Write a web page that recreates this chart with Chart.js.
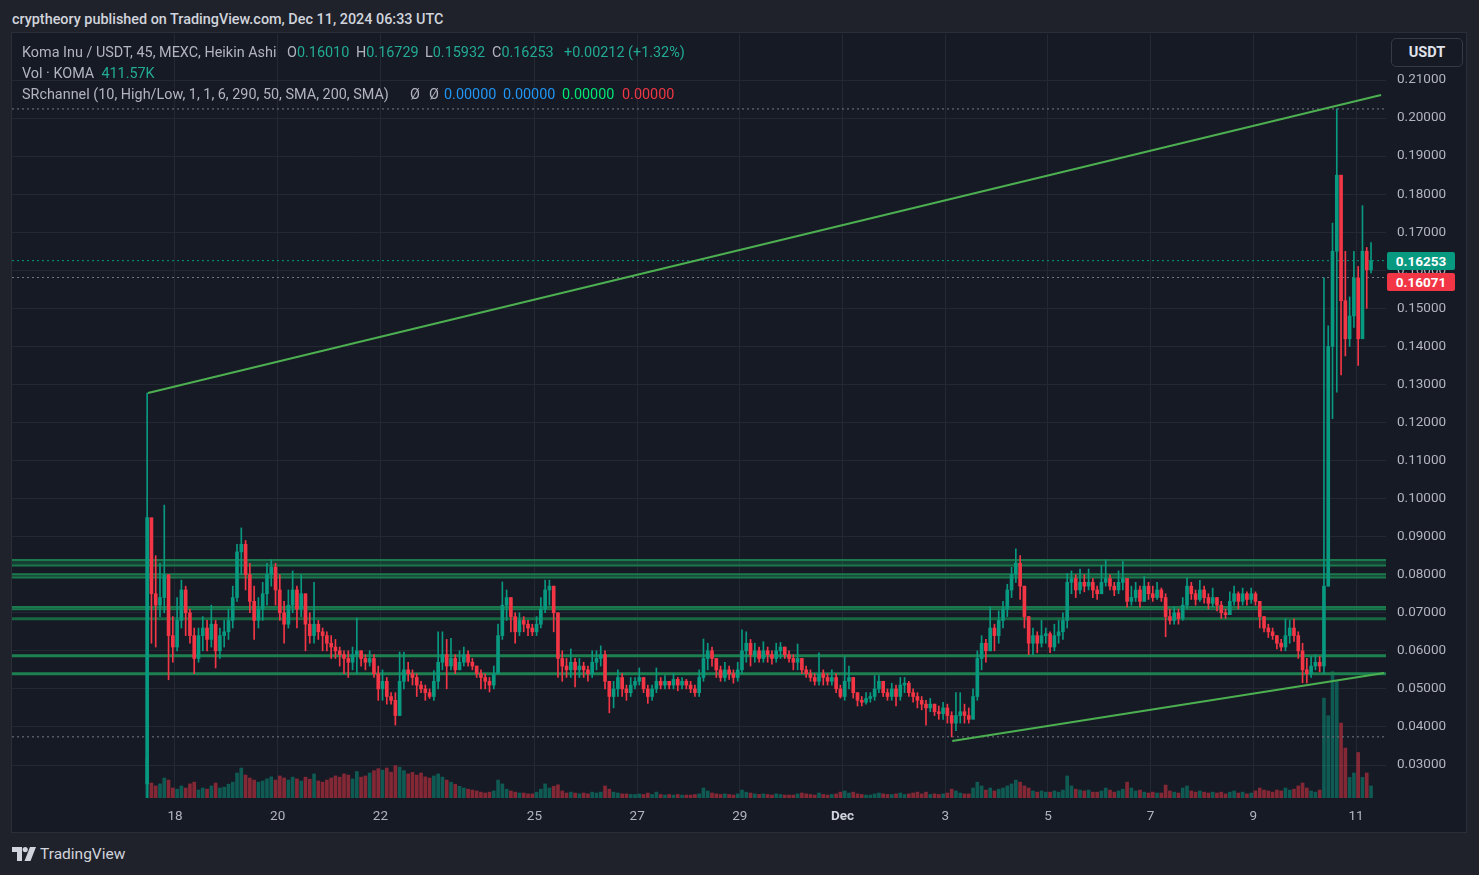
<!DOCTYPE html>
<html>
<head>
<meta charset="utf-8">
<script src="https://cdn.jsdelivr.net/npm/chart.js@4.4.1/dist/chart.umd.min.js"></script>
<style>
    html, body {
        margin: 0;
        padding: 0;
        width: 1479px;
        height: 875px;
        overflow: hidden;
        background: #1f222b;
        font-family: Roboto, "Noto Sans", sans-serif;
    }
    #hdr {
        position: absolute; left: 12px; top: 11px;
        font-size: 14.4px; font-weight: 500; color: #d1d4dc; line-height: 18px;
        white-space: pre;
    }
    #box {
        position: absolute; left: 11px; top: 32px; width: 1456px; height: 801px;
        box-sizing: border-box; border: 1px solid #2a2e39; background: #161a25;
    }
    #wrap { position: absolute; left: 12px; top: 33px; width: 1454px; height: 799px; }
    .leg {
        position: absolute; left: 22px; font-size: 14.4px; color: #b2b5be;
        line-height: 18px; white-space: pre;
    }
    .leg span { position: absolute; top: 0; }
    .v { color: #22ab94; }
    .b { color: #2196f3; }
    .g { color: #00e676; }
    .r { color: #f23645; }
    #usdt {
        position: absolute; left: 1391px; top: 38px; width: 72px; height: 29px;
        box-sizing: border-box; border: 1px solid #363a45; border-radius: 5px;
        background: #161a25; color: #e0e3eb; font-weight: 700; font-size: 14.5px;
        line-height: 27px; text-align: center;
    }
    .plabel {
        position: absolute; left: 1387px; width: 68px; height: 18px;
        color: #fff; font-weight: 700; font-size: 13.5px; line-height: 18px;
        text-align: center; border-radius: 2px;
    }
    #logo {
        position: absolute; left: 12px; top: 844px; color: #d1d4dc;
        font-size: 15.5px; line-height: 20px; display: flex; align-items: center;
    }
    #logo svg { margin-right: 4px; }
</style>
</head>
<body>
<div id="hdr">cryptheory published on TradingView.com, Dec 11, 2024 06:33 UTC</div>
<div id="box"></div>
<div id="wrap"><canvas id="chartCanvas"></canvas></div>

<div class="leg" style="top:44px">Koma Inu / USDT, 45, MEXC, Heikin Ashi<span style="left:265px">O<i class="v" style="font-style:normal">0.16010</i></span><span style="left:334px">H<i class="v" style="font-style:normal">0.16729</i></span><span style="left:403px">L<i class="v" style="font-style:normal">0.15932</i></span><span style="left:470px">C<i class="v" style="font-style:normal">0.16253</i></span><span class="v" style="left:542px">+0.00212 (+1.32%)</span></div>
<div class="leg" style="top:65px">Vol · KOMA  <i class="v" style="font-style:normal">411.57K</i></div>
<div class="leg" style="top:86px">SRchannel (10, High/Low, 1, 1, 6, 290, 50, SMA, 200, SMA)<span style="left:388px">Ø</span><span style="left:407px">Ø</span><span class="b" style="left:422px">0.00000</span><span class="b" style="left:481px">0.00000</span><span class="g" style="left:540px">0.00000</span><span class="r" style="left:600px">0.00000</span></div>

<div id="usdt">USDT</div>
<div class="plabel" id="lastLabel" style="background:#089981">0.16253</div>
<div class="plabel" id="prevLabel" style="background:#f23645">0.16071</div>

<div id="logo">
    <svg width="24" height="14" viewBox="0 0 24 14">
        <path d="M0 0h10v14H5V5H0z" fill="#d1d4dc"/>
        <circle cx="13.2" cy="2.6" r="2.6" fill="#d1d4dc"/>
        <path d="M18 0h6l-5.5 14h-6z" fill="#d1d4dc"/>
    </svg>
    <span>TradingView</span>
</div>

<script>
// Heikin Ashi 45m -> resampled to 2h bars, first bar Nov 17 11:00 (day 17.458)
const barStart = 17.458;
const barStep = 1 / 12;
const firstOpen = 0.025;

const closes = [
    0.095, 0.075, 0.072, 0.074, 0.080, 0.064, 0.061,
    // Nov 18
    0.068, 0.076, 0.070, 0.064, 0.058, 0.064, 0.066, 0.063, 0.067, 0.060, 0.064, 0.065,
    // Nov 19
    0.068, 0.074, 0.086, 0.088, 0.080, 0.073, 0.068, 0.071, 0.075, 0.080, 0.082, 0.076,
    // Nov 20
    0.070, 0.067, 0.072, 0.076, 0.071, 0.075, 0.067, 0.064, 0.067, 0.065, 0.064, 0.062,
    // Nov 21
    0.061, 0.060, 0.059, 0.058, 0.057, 0.059, 0.060, 0.058, 0.057, 0.058, 0.054, 0.050,
    // Nov 22
    0.052, 0.048, 0.047, 0.043, 0.052, 0.055, 0.054, 0.053, 0.051, 0.050, 0.049, 0.048,
    // Nov 23
    0.052, 0.057, 0.059, 0.056, 0.058, 0.055, 0.057, 0.059, 0.057, 0.056, 0.054, 0.053,
    // Nov 24
    0.052, 0.051, 0.054, 0.064, 0.072, 0.074, 0.069, 0.065, 0.068, 0.067, 0.066, 0.065,
    // Nov 25
    0.067, 0.071, 0.076, 0.077, 0.070, 0.058, 0.056, 0.055, 0.057, 0.055, 0.056, 0.055,
    // Nov 26
    0.054, 0.057, 0.058, 0.059, 0.052, 0.048, 0.050, 0.053, 0.050, 0.049, 0.051, 0.052,
    // Nov 27
    0.053, 0.050, 0.048, 0.050, 0.052, 0.051, 0.052, 0.051, 0.0525, 0.051, 0.052, 0.051,
    // Nov 28
    0.050, 0.049, 0.053, 0.058, 0.060, 0.058, 0.055, 0.053, 0.055, 0.054, 0.053, 0.055,
    // Nov 29
    0.060, 0.062, 0.059, 0.060, 0.058, 0.060, 0.059, 0.058, 0.060, 0.061, 0.059, 0.058,
    // Nov 30
    0.057, 0.058, 0.055, 0.054, 0.053, 0.052, 0.054, 0.053, 0.052, 0.053, 0.050, 0.048,
    // Dec 1
    0.052, 0.053, 0.049, 0.047, 0.0465, 0.0475, 0.048, 0.050, 0.052, 0.049, 0.048, 0.050,
    // Dec 2
    0.048, 0.051, 0.0515, 0.049, 0.048, 0.047, 0.046, 0.045, 0.046, 0.044, 0.0435, 0.045,
    // Dec 3
    0.043, 0.041, 0.043, 0.044, 0.043, 0.042, 0.048, 0.058, 0.062, 0.060, 0.066, 0.064,
    // Dec 4
    0.068, 0.071, 0.076, 0.080, 0.083, 0.077, 0.069, 0.062, 0.064, 0.062, 0.064, 0.0645,
    // Dec 5
    0.061, 0.064, 0.065, 0.068, 0.078, 0.079, 0.076, 0.078, 0.077, 0.078, 0.076, 0.075,
    // Dec 6
    0.078, 0.079, 0.077, 0.076, 0.078, 0.079, 0.073, 0.074, 0.076, 0.073, 0.077, 0.075,
    // Dec 7
    0.074, 0.076, 0.074, 0.069, 0.068, 0.070, 0.0685, 0.072, 0.077, 0.075, 0.0735, 0.076,
    // Dec 8
    0.074, 0.0725, 0.074, 0.072, 0.070, 0.0695, 0.073, 0.075, 0.073, 0.075, 0.0735, 0.075,
    // Dec 9
    0.073, 0.069, 0.066, 0.065, 0.064, 0.062, 0.061, 0.064, 0.066, 0.064, 0.060, 0.055,
    // Dec 10 - 11
    0.054, 0.056, 0.057, 0.056, 0.077, 0.140, 0.165, 0.185, 0.152, 0.142, 0.148, 0.158,
    0.142, 0.165, 0.1601, 0.16253
];

const highs = [
    0.1277, 0.0936, 0.085, 0.083, 0.0983, 0.080, 0.069,
    0.074, 0.0786, 0.077, 0.071, 0.066, 0.066, 0.069, 0.068, 0.072, 0.068, 0.066, 0.068,
    0.071, 0.077, 0.088, 0.0923, 0.089, 0.083, 0.077, 0.074, 0.078, 0.083, 0.0839, 0.083,
    0.080, 0.073, 0.076, 0.081, 0.077, 0.080, 0.075, 0.070, 0.078, 0.068, 0.066, 0.065,
    0.064, 0.063, 0.061, 0.060, 0.060, 0.061, 0.0686, 0.060, 0.059, 0.060, 0.059, 0.056,
    0.055, 0.053, 0.049, 0.049, 0.0597, 0.0597, 0.057, 0.055, 0.054, 0.052, 0.051, 0.050,
    0.0548, 0.065, 0.065, 0.063, 0.0633, 0.059, 0.060, 0.061, 0.060, 0.058, 0.056, 0.055,
    0.054, 0.053, 0.056, 0.067, 0.0781, 0.076, 0.074, 0.070, 0.070, 0.069, 0.068, 0.067,
    0.069, 0.074, 0.0786, 0.0786, 0.077, 0.070, 0.060, 0.058, 0.0605, 0.058, 0.058, 0.057,
    0.056, 0.060, 0.060, 0.0613, 0.060, 0.052, 0.052, 0.055, 0.054, 0.051, 0.053, 0.053,
    0.0555, 0.053, 0.051, 0.051, 0.0555, 0.053, 0.0535, 0.052, 0.054, 0.053, 0.053, 0.0525,
    0.052, 0.051, 0.055, 0.0631, 0.062, 0.061, 0.058, 0.056, 0.057, 0.056, 0.055, 0.057,
    0.0655, 0.065, 0.063, 0.062, 0.061, 0.0624, 0.061, 0.060, 0.062, 0.0622, 0.061, 0.060,
    0.059, 0.0618, 0.058, 0.056, 0.055, 0.054, 0.0595, 0.055, 0.054, 0.055, 0.054, 0.051,
    0.0584, 0.056, 0.053, 0.049, 0.048, 0.049, 0.049, 0.0535, 0.0535, 0.052, 0.050, 0.0515,
    0.051, 0.053, 0.053, 0.052, 0.050, 0.049, 0.048, 0.047, 0.0475, 0.046, 0.0455, 0.0465,
    0.046, 0.044, 0.049, 0.049, 0.046, 0.045, 0.050, 0.060, 0.064, 0.063, 0.0715, 0.067,
    0.0705, 0.073, 0.0775, 0.082, 0.0868, 0.085, 0.077, 0.069, 0.066, 0.065, 0.068, 0.066,
    0.065, 0.067, 0.068, 0.070, 0.0803, 0.081, 0.080, 0.0815, 0.080, 0.0815, 0.079, 0.077,
    0.0825, 0.0839, 0.080, 0.078, 0.081, 0.0835, 0.079, 0.077, 0.078, 0.077, 0.0795, 0.078,
    0.077, 0.078, 0.0765, 0.075, 0.071, 0.0715, 0.071, 0.074, 0.0791, 0.078, 0.076, 0.0785,
    0.077, 0.075, 0.0765, 0.074, 0.073, 0.071, 0.0755, 0.077, 0.0755, 0.0765, 0.0755, 0.0765,
    0.0755, 0.073, 0.069, 0.067, 0.066, 0.064, 0.063, 0.0684, 0.068, 0.0684, 0.065, 0.062,
    0.058, 0.0585, 0.059, 0.0585, 0.158, 0.1454, 0.1724, 0.2024, 0.176, 0.165, 0.153, 0.165,
    0.161, 0.177, 0.166, 0.16729
];

const lows = [
    0.012, 0.062, 0.061, 0.069, 0.070, 0.0524, 0.057,
    0.060, 0.066, 0.064, 0.062, 0.054, 0.057, 0.060, 0.060, 0.061, 0.0555, 0.058, 0.061,
    0.063, 0.066, 0.073, 0.080, 0.076, 0.070, 0.063, 0.066, 0.068, 0.072, 0.077, 0.072,
    0.068, 0.062, 0.066, 0.070, 0.066, 0.069, 0.060, 0.062, 0.062, 0.063, 0.060, 0.060,
    0.058, 0.058, 0.056, 0.054, 0.053, 0.055, 0.054, 0.056, 0.055, 0.056, 0.053, 0.047,
    0.047, 0.046, 0.046, 0.0405, 0.043, 0.050, 0.052, 0.051, 0.048, 0.049, 0.047, 0.0475,
    0.047, 0.050, 0.055, 0.050, 0.055, 0.054, 0.055, 0.056, 0.056, 0.055, 0.053, 0.050,
    0.050, 0.0492, 0.050, 0.054, 0.063, 0.068, 0.065, 0.062, 0.064, 0.065, 0.064, 0.064,
    0.064, 0.066, 0.070, 0.072, 0.065, 0.053, 0.052, 0.053, 0.053, 0.0505, 0.053, 0.053,
    0.052, 0.053, 0.055, 0.056, 0.050, 0.0437, 0.045, 0.048, 0.048, 0.047, 0.048, 0.050,
    0.051, 0.049, 0.0462, 0.047, 0.049, 0.050, 0.050, 0.050, 0.050, 0.0495, 0.050, 0.050,
    0.049, 0.048, 0.048, 0.052, 0.055, 0.056, 0.053, 0.052, 0.052, 0.0525, 0.0515, 0.052,
    0.054, 0.057, 0.056, 0.057, 0.057, 0.057, 0.057, 0.0565, 0.057, 0.058, 0.058, 0.057,
    0.055, 0.055, 0.054, 0.053, 0.052, 0.051, 0.051, 0.051, 0.051, 0.051, 0.049, 0.0476,
    0.047, 0.050, 0.0476, 0.0455, 0.0455, 0.046, 0.0465, 0.047, 0.049, 0.048, 0.047, 0.047,
    0.0455, 0.047, 0.049, 0.048, 0.0465, 0.045, 0.0445, 0.0405, 0.044, 0.043, 0.042, 0.042,
    0.041, 0.0374, 0.039, 0.041, 0.041, 0.041, 0.0425, 0.047, 0.055, 0.057, 0.060, 0.060,
    0.062, 0.066, 0.069, 0.074, 0.078, 0.0735, 0.066, 0.059, 0.059, 0.0595, 0.061, 0.062,
    0.0595, 0.060, 0.062, 0.063, 0.066, 0.075, 0.074, 0.075, 0.0755, 0.076, 0.074, 0.0735,
    0.075, 0.077, 0.076, 0.0745, 0.075, 0.076, 0.0715, 0.072, 0.073, 0.0715, 0.073, 0.0735,
    0.073, 0.0735, 0.073, 0.0637, 0.067, 0.067, 0.067, 0.068, 0.071, 0.0735, 0.072, 0.073,
    0.0725, 0.071, 0.0715, 0.0705, 0.0685, 0.0685, 0.070, 0.072, 0.071, 0.072, 0.072, 0.0725,
    0.072, 0.066, 0.065, 0.0635, 0.063, 0.0605, 0.060, 0.060, 0.062, 0.0625, 0.058, 0.0516,
    0.0516, 0.053, 0.055, 0.0545, 0.054, 0.077, 0.121, 0.128, 0.1325, 0.1375, 0.140, 0.145,
    0.135, 0.1446, 0.150, 0.15932
];

// volume, thousands of KOMA
const volumes = [
    1360, 510, 410, 480, 680, 610, 340,
    300, 410, 340, 480, 540, 270, 340, 300, 410, 510, 340, 370,
    470, 540, 850, 1020, 780, 680, 610, 540, 580, 650, 720, 610,
    750, 680, 610, 710, 650, 580, 710, 640, 820, 580, 540, 610,
    680, 750, 710, 820, 780, 650, 900, 710, 750, 850, 930, 1000,
    950, 1020, 880, 1100, 1050, 930, 820, 870, 780, 850, 720, 680,
    750, 820, 710, 610, 540, 470, 400, 340, 300, 270, 240, 200,
    170, 200, 240, 610, 480, 300, 240, 200, 170, 170, 140, 140,
    200, 300, 480, 340, 400, 450, 240, 170, 200, 170, 140, 170,
    140, 200, 170, 200, 410, 300, 200, 170, 140, 140, 120, 120,
    140, 120, 170, 120, 200, 120, 100, 120, 100, 120, 100, 100,
    100, 120, 140, 340, 240, 170, 140, 120, 140, 120, 100, 140,
    270, 200, 170, 140, 120, 140, 120, 100, 140, 120, 100, 100,
    100, 140, 170, 140, 120, 100, 170, 120, 100, 120, 140, 200,
    240, 170, 200, 140, 120, 100, 100, 140, 170, 140, 120, 120,
    140, 170, 120, 140, 170, 200, 140, 200, 120, 140, 120, 140,
    170, 300, 240, 170, 140, 140, 340, 540, 410, 270, 340, 240,
    300, 340, 410, 480, 610, 540, 410, 340, 240, 200, 240, 200,
    200, 240, 200, 270, 750, 410, 300, 270, 240, 270, 200, 200,
    240, 340, 270, 200, 240, 300, 540, 340, 240, 270, 200, 170,
    200, 170, 170, 440, 240, 200, 170, 340, 410, 240, 200, 240,
    200, 170, 200, 170, 200, 140, 200, 240, 170, 200, 140, 170,
    240, 340, 270, 240, 200, 270, 240, 340, 270, 300, 410, 510,
    340, 240, 200, 270, 3400, 2800, 4300, 4000, 2550, 1700, 700, 850,
    1550, 700, 850, 412
];

// axis ticks (day of month, Dec 1 = 31)
const xTickValues = [18, 20, 22, 25, 27, 29, 31, 33, 35, 37, 39, 41];
const xTickLabels = ['18', '20', '22', '25', '27', '29', 'Dec', '3', '5', '7', '9', '11'];
const yTickValues = [0.03, 0.04, 0.05, 0.06, 0.07, 0.08, 0.09, 0.10, 0.11, 0.12,
    0.13, 0.14, 0.15, 0.16, 0.17, 0.18, 0.19, 0.20, 0.21];

// SRchannel zones [top, bottom] and single levels
const srZones = [[0.0839, 0.0824], [0.0801, 0.0793], [0.0715, 0.0709]];
const srLevelDark = [0.0684];
const srLevels = [0.0587, 0.0540];

// drawn trend lines [day, price]
const upperTrend = [[17.474, 0.12776], [41.487, 0.20606]];
const lowerTrend = [[33.136, 0.03633], [41.546, 0.0542]];

// dotted price lines
const highLine = 0.2024;
const lowLine = 0.0374;
const lastPrice = 0.16253;
const prevLine = 0.1581;

const X_MIN = 14.826;
const X_MAX = 41.583;
const Y_MIN = 0.02133;
const Y_MAX = 0.22209;

const UP = '#089981';
const DOWN = '#f23645';

const days = closes.map((c, i) => barStart + i * barStep);
const opens = closes.map((c, i) => (i === 0 ? firstOpen : closes[i - 1]));
const rising = closes.map((c, i) => c >= opens[i]);

function hLine(value, color, width, dash, extra) {
    return Object.assign({
        type: 'line',
        data: [{ x: X_MIN, y: value }, { x: X_MAX, y: value }],
        borderColor: color,
        borderWidth: width,
        borderDash: dash || [],
        pointRadius: 0,
        fill: false,
        order: 5,
    }, extra || {});
}

const datasets = [];

// trend lines on top
[upperTrend, lowerTrend].forEach((t) => {
    datasets.push({
        type: 'line',
        data: t.map((p) => ({ x: p[0], y: p[1] })),
        borderColor: '#4caf50',
        borderWidth: 2,
        pointRadius: 0,
        fill: false,
        order: 0,
    });
});

// candles
datasets.push({
    type: 'bar',
    data: days.map((d, i) => ({ x: d, y: [lows[i], highs[i]] })),
    backgroundColor: rising.map((r) => (r ? UP : DOWN)),
    barThickness: 1,
    grouped: false,
    order: 2,
});
datasets.push({
    type: 'bar',
    data: days.map((d, i) => ({ x: d, y: [opens[i], closes[i]] })),
    backgroundColor: rising.map((r) => (r ? UP : DOWN)),
    barThickness: 3,
    minBarLength: 1,
    grouped: false,
    order: 1,
});

// SR zones (top line fills down to the next dataset)
srZones.forEach((z) => {
    datasets.push(hLine(z[0], '#1b7a4d', 2, null, {
        fill: '+1', backgroundColor: 'rgba(24,110,70,0.45)',
    }));
    datasets.push(hLine(z[1], '#1b7a4d', 2));
});
srLevelDark.forEach((v) => datasets.push(hLine(v, '#176742', 3)));
srLevels.forEach((v) => datasets.push(hLine(v, '#1c8050', 3)));

// dotted lines
datasets.push(hLine(highLine, '#787b86', 1, [2, 3]));
datasets.push(hLine(lowLine, '#787b86', 1, [2, 3]));
datasets.push(hLine(lastPrice, UP, 1, [2, 3]));
datasets.push(hLine(prevLine, '#787b86', 1, [2, 3]));

// volume
datasets.push({
    type: 'bar',
    data: days.map((d, i) => ({ x: d, y: volumes[i] })),
    yAxisID: 'yv',
    backgroundColor: rising.map((r) => (r ? 'rgba(8,153,129,0.5)' : 'rgba(242,54,69,0.5)')),
    barThickness: 3,
    grouped: false,
    order: 6,
});

const gridColor = '#242833';
const tickFont = { family: 'Roboto, "Noto Sans", sans-serif', size: 13.5 };

const chart = new Chart(document.getElementById('chartCanvas'), {
    type: 'bar',
    data: { datasets },
    options: {
        responsive: true,
        maintainAspectRatio: false,
        animation: false,
        events: [],
        layout: { autoPadding: false, padding: { top: 1, left: 0, right: 0, bottom: 0 } },
        plugins: {
            legend: { display: false },
            tooltip: { enabled: false },
        },
        scales: {
            x: {
                type: 'linear',
                min: X_MIN,
                max: X_MAX,
                offset: false,
                afterBuildTicks: (s) => { s.ticks = xTickValues.map((v) => ({ value: v })); },
                afterFit: (s) => {
                    s.height = 34;
                    s.paddingLeft = 0;
                    s.paddingRight = 0;
                },
                grid: { color: gridColor, drawTicks: false, offset: false },
                border: { display: false },
                ticks: {
                    padding: 11,
                    maxRotation: 0,
                    autoSkip: false,
                    color: (ctx) => (ctx.tick && ctx.tick.value === 31 ? '#d1d4dc' : '#b2b5be'),
                    font: (ctx) => ({
                        family: tickFont.family,
                        size: 13.5,
                        weight: ctx.tick && ctx.tick.value === 31 ? 'bold' : 'normal',
                    }),
                    callback: (v, i) => xTickLabels[i],
                },
            },
            y: {
                type: 'linear',
                position: 'right',
                min: Y_MIN,
                max: Y_MAX,
                afterBuildTicks: (s) => { s.ticks = yTickValues.map((v) => ({ value: v })); },
                afterFit: (s) => {
                    s.width = 80;
                    s.paddingTop = 0;
                    s.paddingBottom = 0;
                },
                grid: { color: gridColor, drawTicks: false },
                border: { display: false },
                ticks: {
                    padding: 11,
                    color: '#b2b5be',
                    font: tickFont,
                    callback: (v) => Number(v).toFixed(5),
                },
            },
            yv: {
                type: 'linear',
                display: false,
                min: 0,
                max: 26000,
            },
        },
    },
});

// place the price labels on the scale
const yScale = chart.scales.y;
const lastTop = Math.round(yScale.getPixelForValue(lastPrice)) + 33 - 9;
document.getElementById('lastLabel').style.top = lastTop + 'px';
document.getElementById('prevLabel').style.top = (lastTop + 21) + 'px';
</script>
</body>
</html>
